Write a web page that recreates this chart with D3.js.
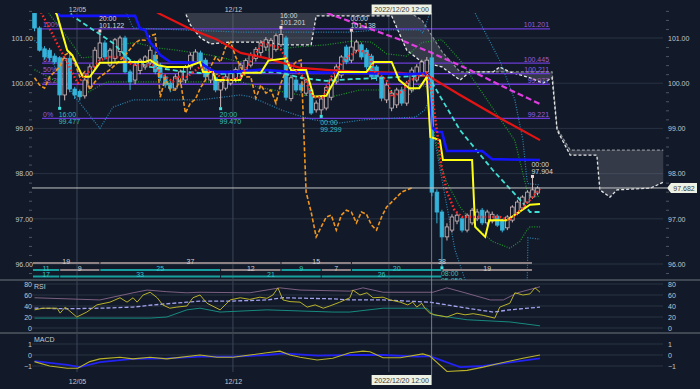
<!DOCTYPE html>
<html>
<head>
<meta charset="utf-8">
<script src="https://cdn.jsdelivr.net/npm/d3@7"></script>
<style>
body{margin:0;background:#121a29;}
svg{display:block;font-family:"Liberation Sans",Arial,sans-serif;}
</style>
</head>
<body>
<svg id="chart" width="700" height="389"></svg>
<script>
// ---- candles, 4h bars, index 0..100
var openP  = [101.55,101.22,100.76,100.73,100.60,100.56,99.74,100.55,99.87,99.82,99.72,99.92,100.36,100.56,100.89,100.40,100.55,100.70,101.00,100.25,
              100.07,100.28,100.36,100.45,100.62,100.40,100.14,100.00,99.89,100.03,100.07,100.36,100.47,100.67,100.51,100.07,100.12,99.85,99.89,100.00,
              100.10,100.22,100.30,100.40,100.55,100.68,100.80,100.55,100.75,100.85,101.00,99.66,100.07,99.96,99.78,99.85,99.41,99.41,99.45,99.69,
              100.03,100.18,100.80,100.51,100.73,100.85,100.73,100.60,100.36,100.14,99.63,99.45,99.52,99.85,99.56,99.85,100.07,100.22,100.25,100.56,
              97.59,97.15,96.60,96.75,96.95,97.00,96.75,96.91,97.00,97.19,96.91,96.95,97.06,96.97,96.80,96.97,97.12,97.24,97.37,97.48,97.57];
var highP  = [101.60,101.26,100.82,100.78,100.66,100.60,100.58,100.65,99.92,99.86,100.12,100.42,100.80,101.122,100.95,100.78,101.00,101.05,101.05,100.30,
              100.45,100.55,100.62,100.80,100.70,100.45,100.20,100.05,100.20,100.30,100.40,100.68,100.75,100.72,100.56,100.30,100.18,100.08,100.20,100.28,
              100.35,100.45,100.55,100.68,100.80,100.95,101.02,101.00,101.10,101.201,101.05,100.18,100.12,100.00,100.10,99.90,99.62,99.70,99.95,100.12,
              100.42,100.62,100.85,101.138,100.96,100.90,100.78,100.65,100.40,100.18,100.02,99.85,99.90,99.92,100.05,100.35,100.42,100.52,100.58,100.70,
              97.65,97.20,96.90,97.10,97.12,97.05,97.12,97.24,97.22,97.24,97.20,97.16,97.10,97.00,97.08,97.30,97.42,97.52,97.63,97.904,97.72];
var lowP   = [101.15,100.70,100.52,100.50,100.42,99.477,99.62,99.80,99.65,99.62,99.66,99.88,100.30,100.50,100.52,100.36,100.48,100.60,100.22,99.85,
              99.98,100.20,100.30,100.40,100.20,100.05,99.90,99.80,99.85,99.98,100.00,100.30,100.42,100.40,100.08,100.00,99.80,99.470,99.84,99.95,
              100.02,100.15,100.22,100.35,100.48,100.60,100.72,100.50,100.70,100.80,99.62,99.60,99.80,99.78,99.72,99.30,99.35,99.299,99.40,99.62,
              99.98,100.12,100.42,100.45,100.68,100.52,100.30,100.08,100.05,99.60,99.56,99.38,99.45,99.50,99.50,99.80,100.02,100.18,100.20,97.50,
              96.90,95.95,96.52,96.70,96.88,96.70,96.70,96.86,96.95,96.86,96.86,96.90,96.82,96.70,96.75,96.92,97.08,97.20,97.33,97.44,97.52];
var closeP = [101.22,100.73,100.58,100.56,100.47,99.74,100.55,99.87,99.74,99.70,100.07,100.36,100.73,100.89,100.58,100.73,100.96,101.00,100.25,100.03,
              100.40,100.51,100.58,100.73,100.25,100.12,99.96,99.89,100.14,100.25,100.36,100.62,100.69,100.45,100.14,100.25,99.85,100.03,100.14,100.22,
              100.30,100.40,100.50,100.62,100.75,100.89,100.96,100.95,101.05,101.08,99.69,100.12,99.85,99.85,100.07,99.34,99.56,99.65,99.90,100.07,
              100.36,100.58,100.47,100.80,100.91,100.58,100.36,100.14,100.14,99.67,99.96,99.78,99.85,99.56,100.00,100.29,100.36,100.47,100.51,97.59,
              97.15,96.60,96.82,97.04,97.08,96.75,97.08,97.19,97.15,96.91,97.15,97.10,96.86,96.75,97.04,97.26,97.37,97.48,97.59,97.64,97.682];

var dateTicks = [8.45, 39.45, 70.45];
var dateLabels = ["12/05", "12/12", "12/19"];
var crossIdx = 78.95, crossLabel = "2022/12/20 12:00", crossPrice = 97.682;
var priceTicks = [96, 97, 98, 99, 100, 101];

// swing highs / lows with their times
var swingHighIdx = [13, 49, 63, 99], swingHighTime = ["20:00", "16:00", "00:00", "00:00"];
var swingLowIdx = [5, 37, 57, 81], swingLowTime = ["16:00", "20:00", "00:00", "08:00"];

// fibonacci retracement
var fibLevels = [101.201, 100.445, 100.211, 99.977, 99.221];
var fibNames = ["100%", "61.8%", "50%", "38.2%", "0%"];
var fibFrom = 1.5, fibTo = 102.5;

// lines: [index, price]
var tenkanIdx = [4,4.5,6.5,7.5,9.6,11,13,15,18,22,23,24.5,26.3,30.3,32.9,33.5,35.5,36,40.9,41.5,45,46.5,50,51,54,55.5,58,59.5,60.5,66,67.5,71,72.5,74.5,76.5,78,78.7,80.6,81.2,87,87.6,89.6,90.4,93.9,96.1,98.5,100.5];
var tenkanVal = [101.62,101.50,100.73,100.62,100.14,100.14,100.45,100.45,100.47,100.47,100.51,100.40,100.36,100.36,100.47,100.25,100.25,100.07,100.07,100.23,100.23,100.50,100.55,100.29,100.29,99.70,99.72,100.03,100.25,100.25,100.47,100.47,100.07,99.89,99.89,100.14,98.81,98.74,98.30,98.30,96.82,96.60,96.97,96.97,97.13,97.31,97.33];
var kijunIdx = [4,5,20,21,22,23,24,25,27,33,35,36,40,45,50,55,60,65,70,75,78,79,80,81,82,89,91,100.5];
var kijunVal = [101.62,101.49,101.49,101.20,101.18,100.90,100.78,100.62,100.47,100.45,100.30,100.25,100.25,100.30,100.26,100.24,100.23,100.22,100.21,100.20,100.22,99.03,98.92,98.92,98.50,98.50,98.32,98.30];
var sma20Idx = [6.5,7.5,15.6,19,23,30,36,41,48,53,58,63,70,78,79,84.6,91.1,97.1,98.5,100.5];
var sma20Val = [101.70,101.49,100.89,100.51,100.36,100.25,100.20,100.23,100.25,100.12,100.05,100.09,100.12,100.18,100.02,98.96,98.08,97.35,97.15,97.15];
var sma75Idx = [23,24.6,31,36,41,45.8,52.8,58.7,64.7,72.7,76.6,78.6,84.6,92.5,100.5];
var sma75Val = [101.70,101.55,101.20,100.98,100.67,100.56,100.34,100.29,100.25,100.23,100.18,100.14,99.74,99.23,98.74];
var sma200Idx = [57,58.2,72.7,78.6,86.6,92.5,100.5];
var sma200Val = [101.70,101.55,100.96,100.69,100.29,99.96,99.54];
var sma5Idx = [1,1.4,8.6,13,15,17,19.6,22.4,23.5,25,27.5,28.3,30.3,32.9,35.5,38.3,40.9,45.4,48.8,51,53.5,55.4,57.4,59,62.1,64.7,66.7,67.3,70,71.1,73.5,74.1,78,79,80,81,82,83.5,85,92.5,94.5,97,100.5];
var sma5Val = [101.65,101.55,100.00,100.51,100.58,100.58,100.40,100.40,100.40,100.23,100.03,100.14,100.14,100.36,100.23,100.07,100.12,100.89,100.78,100.36,100.14,99.69,99.69,100.14,100.58,100.73,100.62,100.29,100.07,99.69,99.85,100.03,100.23,99.80,98.95,98.10,97.60,97.19,97.04,97.04,96.97,97.24,97.66];
var bbUp1Idx = [2,3.1,6.5,9.4,13,17,20,24.4,28.3,35,40.9,46,52,58,63,67,70,74,77,81,84.6,95.5,97.9,98.5,100.5];
var bbUp1Val = [101.70,101.51,101.02,100.56,100.60,100.85,100.90,100.78,100.73,100.62,100.47,100.73,100.80,100.85,100.93,100.91,100.65,100.60,100.90,100.96,100.51,98.73,97.64,97.48,97.50];
var bbLo1Idx = [0,5,9,14.4,40.9,45,52.8,58.7,64.7,70.7,72.1,74,76.6,78,79,80.5,82,84.6,88,91,94.5,96.5,97.9,98.5,100.5];
var bbLo1Val = [100.30,100.00,99.70,100.03,100.03,99.90,99.74,99.69,99.85,99.85,99.63,99.70,99.96,99.92,99.20,98.30,97.80,97.26,96.80,96.50,96.35,96.50,96.75,96.82,96.82];
var bbUp2Idx = [18,19.6,40.9,62.7,68.7,76.6,77.2,78.6,79.5,87.6,92.5,95.5,97.1,97.9,98.1,100.5];
var bbUp2Val = [101.62,101.22,101.13,101.13,101.18,101.18,101.11,101.55,101.90,101.55,100.50,99.63,98.74,97.86,97.78,97.75];
var bbLo2Idx = [0,2,7,13,15.6,19.6,33,40.9,43,49,52,55.4,60.7,65.5,75.8,77.6,78.5,79.2,83.6,85.6,88,97.9,98.1,100.5];
var bbLo2Val = [100.95,100.73,99.85,99.00,99.47,99.63,99.63,99.74,99.70,99.41,99.30,99.19,99.12,99.19,99.25,99.41,99.63,98.96,96.31,95.65,95.10,95.20,96.58,96.55];
var cloudIdx = [29,30,31,33,35,39,45,50,55,56,71,74,77,81,84.6,86.6,91.2,92.5,94.5,98.5,101.1,102.9,103.9,106.5,111.8,112.4,114.4,115.8,122.5,125];
var spanA = [101.70,101.55,101.29,101.00,100.87,100.91,100.91,100.85,100.85,101.49,101.49,100.73,100.47,100.36,100.07,100.25,100.25,100.36,100.25,100.12,100.00,100.12,98.96,98.41,98.41,97.64,97.48,97.64,97.68,97.81];
var spanB = [101.80,101.80,101.80,101.80,101.80,101.80,101.80,101.80,101.80,101.80,101.60,101.60,101.40,100.70,100.25,100.25,100.25,100.25,100.25,100.25,100.25,100.25,99.00,98.52,98.52,98.52,98.52,98.52,98.52,98.52];
var chikouShift = 25;

// RSI panel
var rsiIdx = [0,1.7,4.5,5.1,6.1,8.4,10.4,12.4,15,17,18.4,19.6,20.4,21.6,23,24.4,25.5,26.9,28.3,30.3,31.5,32.9,34.3,36.9,38.9,40.9,42.8,44.8,46.2,47.4,48.4,49.4,50.8,52.8,54.2,55.8,57.4,58.7,60.7,62.7,63.3,64.7,66.1,67.3,69.3,70.7,72.7,74.2,75.2,76,77,77.6,78.6,79.6,82,84,85.6,87.2,89.2,91.5,92.5,94.5,95.5,97.1,98.5,99.5,100.5];
var rsiVal = [33,36,36,27,38,20,29,42,47,55,47,55,47,60,65,55,42,36,38,40,55,60,45,33,51,55,52,56,54,60,73,51,48,47,38,42,36,40,47,55,69,60,64,55,56,51,47,42,47,38,45,36,27,24,20,27,24,26,23,18,38,45,64,60,62,73,65];
var rsiUpIdx = [0,13,19.6,22.4,26.3,30.3,32.9,42.8,48.8,52.8,62.7,65.3,69.3,79.2,82,85.6,90.6,93.2,96,100.5];
var rsiUpVal = [55,51,64,69,66,64,65,64,73,69,67,73,65,65,73,64,51,51,64,75];
var rsiMidIdx = [0,6.5,13,19.6,23.6,30.3,32.9,39.5,46.2,49.4,59.3,62.7,69.3,78.6,86,91.2,94.5,100.5];
var rsiMidVal = [36,35,36,38,42,47,49,49,51,55,53,51,51,47,36,29,33,38];
var rsiLoIdx = [0,13,23,26.3,30.3,32.9,36.9,46.2,59.3,62.7,69.3,78,79.2,86,94.5,100.5];
var rsiLoVal = [18,18,18,20,33,36,29,33,29,29,36,36,24,15,11,4];
var rsiTicks = [0, 20, 40, 60, 80];

// MACD panel
var macdIdx = [0,3,6.5,8.6,11,13,17,19.6,23,26.3,32.9,36.3,39.5,42.8,46.2,48.8,50.8,52.8,56.2,59.3,62.7,65.3,66.7,69.3,72.7,77.2,78.6,82,86,89.2,92.5,97.1,100.5];
var macdVal = [-0.6,-1.0,-1.2,-1.2,-0.6,-0.35,-0.2,-0.35,-0.2,-0.35,0.0,-0.2,-0.2,0.0,0.2,0.35,0.0,-0.2,-0.45,-0.3,0.2,0.35,0.3,-0.25,-0.25,0.1,-0.1,-1.5,-1.4,-1.1,-0.75,-0.3,0.0];
var signalIdx = [0,6.5,9,13,19.6,26.3,32.9,39.5,46.2,49.4,56.2,62.7,69.3,76,78.6,84.6,89.2,100.5];
var signalVal = [-0.55,-0.9,-1.1,-0.65,-0.35,-0.3,-0.15,-0.15,0.0,0.15,-0.05,0.0,0.0,-0.15,-0.1,-1.1,-1.0,-0.3];
var macdTicks = [-1, 0, 1];

// wave count rows
var wave1Edges = [-0.4, 13, 49, 63, 99], wave1Counts = [19, 37, 15, 38];
var wave2Edges = [-0.4, 5, 13, 37, 49, 57, 63, 81, 99], wave2Counts = [11, 9, 25, 12, 9, 7, 20, 19];
var wave3Edges = [-0.4, 5, 37, 57, 81], wave3Counts = [17, 33, 21, 26];

// ---- scales
var x = d3.scaleLinear().domain([0, 100]).range([34.5, 537.5]);
var y = d3.scaleLinear().domain([96, 101]).range([264, 38]);
var yR = d3.scaleLinear().domain([0, 80]).range([328, 284]);
var yM = d3.scaleLinear().domain([-1, 1]).range([366, 344]);
var left = 32, right = 663;

var svg = d3.select("#chart");
svg.append("rect").attr("width", 700).attr("height", 389).attr("fill", "#121a29");

var defs = svg.append("defs");
defs.append("clipPath").attr("id", "mainClip").append("rect")
  .attr("x", left).attr("y", 13).attr("width", right - left + 3).attr("height", 267);
defs.append("clipPath").attr("id", "rsiClip").append("rect")
  .attr("x", left).attr("y", 281).attr("width", right - left).attr("height", 51);
defs.append("clipPath").attr("id", "macdClip").append("rect")
  .attr("x", left).attr("y", 334).attr("width", right - left).attr("height", 40);

function pts(idx, val) { return idx.map(function(d, i) { return [d, val[i]]; }); }

// ---- grid
var grid = svg.append("g");
grid.selectAll(".hg").data(priceTicks).enter().append("line")
  .attr("x1", left).attr("x2", right).attr("y1", function(d) { return y(d); }).attr("y2", function(d) { return y(d); })
  .attr("stroke", "#283243").attr("stroke-width", 1);
grid.selectAll(".rg").data(rsiTicks).enter().append("line")
  .attr("x1", left).attr("x2", right).attr("y1", function(d) { return yR(d); }).attr("y2", function(d) { return yR(d); })
  .attr("stroke", "#283243");
grid.selectAll(".mg").data(macdTicks).enter().append("line")
  .attr("x1", left).attr("x2", right).attr("y1", function(d) { return yM(d); }).attr("y2", function(d) { return yM(d); })
  .attr("stroke", "#283243");
grid.selectAll(".vg").data(dateTicks).enter().append("line")
  .attr("x1", function(d) { return x(d); }).attr("x2", function(d) { return x(d); })
  .attr("y1", 13).attr("y2", 372).attr("stroke", "#3b4556");

// axes labels
function styleAxis(g) {
  g.select(".domain").remove();
  g.selectAll("text").attr("fill", "#c3c7cc").style("font-size", "7px").style("font-family", "Liberation Sans, Arial, sans-serif");
  g.selectAll("line").attr("stroke", "#4c5563");
}
svg.append("g").attr("transform", "translate(34,0)")
  .call(d3.axisLeft(y).tickValues(priceTicks).tickFormat(d3.format(".2f")).tickSize(0).tickPadding(1)).call(styleAxis);
svg.append("g").attr("transform", "translate(667,0)")
  .call(d3.axisRight(y).tickValues(priceTicks).tickFormat(d3.format(".2f")).tickSize(0).tickPadding(1)).call(styleAxis);
var minor = d3.range(95.8, 101.7, 0.2).filter(function(v) { return Math.abs(v - Math.round(v)) > 0.05; });
svg.append("g").attr("transform", "translate(32,0)")
  .call(d3.axisLeft(y).tickValues(minor).tickFormat("").tickSize(3)).call(styleAxis);
svg.append("g").attr("transform", "translate(666,0)")
  .call(d3.axisRight(y).tickValues(minor).tickFormat("").tickSize(3)).call(styleAxis);
svg.append("g").attr("transform", "translate(33,0)")
  .call(d3.axisLeft(yR).tickValues(rsiTicks).tickFormat(d3.format("d")).tickSize(0).tickPadding(1)).call(styleAxis);
svg.append("g").attr("transform", "translate(667,0)")
  .call(d3.axisRight(yR).tickValues(rsiTicks).tickFormat(d3.format("d")).tickSize(0).tickPadding(1)).call(styleAxis);
svg.append("g").attr("transform", "translate(33,0)")
  .call(d3.axisLeft(yM).tickValues(macdTicks).tickFormat(d3.format("d")).tickSize(0).tickPadding(1)).call(styleAxis);
svg.append("g").attr("transform", "translate(667,0)")
  .call(d3.axisRight(yM).tickValues(macdTicks).tickFormat(d3.format("d")).tickSize(0).tickPadding(1)).call(styleAxis);
svg.append("g").attr("transform", "translate(0,376)")
  .call(d3.axisBottom(x).tickValues(dateTicks.slice(0, 2)).tickFormat(function(d, i) { return dateLabels[i]; }).tickSize(0)).call(styleAxis);
svg.append("g").attr("transform", "translate(0,4)")
  .call(d3.axisBottom(x).tickValues(dateTicks.slice(0, 2)).tickFormat(function(d, i) { return dateLabels[i]; }).tickSize(0)).call(styleAxis);

// panel separators
[280, 333].forEach(function(v) {
  svg.append("line").attr("x1", 0).attr("x2", 700).attr("y1", v).attr("y2", v).attr("stroke", "#3f4752").attr("stroke-width", 2);
});

// ---- main panel
var main = svg.append("g").attr("clip-path", "url(#mainClip)");
var line = d3.line().x(function(d) { return x(d[0]); }).y(function(d) { return y(d[1]); });

// cloud
var cloud = pts(cloudIdx, spanA).map(function(d, i) { return [d[0], d[1], spanB[i]]; });
main.append("path").datum(cloud)
  .attr("d", d3.area().x(function(d) { return x(d[0]); }).y0(function(d) { return y(d[1]); }).y1(function(d) { return y(d[2]); }))
  .attr("fill", "#8c919b").attr("fill-opacity", 0.28);
main.append("path").datum(pts(cloudIdx, spanB)).attr("d", line)
  .attr("fill", "none").attr("stroke", "#8e9299").attr("stroke-width", 1.2).attr("stroke-dasharray", "3,2");
main.append("path").datum(pts(cloudIdx, spanA)).attr("d", line)
  .attr("fill", "none").attr("stroke", "#e6e6e6").attr("stroke-width", 1.3).attr("stroke-dasharray", "3,2");

// fibonacci
var fib = main.append("g");
fib.selectAll("line").data(fibLevels).enter().append("line")
  .attr("x1", x(fibFrom)).attr("x2", x(fibTo))
  .attr("y1", function(d) { return y(d); }).attr("y2", function(d) { return y(d); })
  .attr("stroke", "#6a3bd6").attr("stroke-width", 1.4);
fib.selectAll(".fl").data(fibNames).enter().append("text")
  .attr("x", x(fibFrom) + 1).attr("y", function(d, i) { return y(fibLevels[i]) - 1.5; })
  .attr("fill", "#9a5ddc").style("font-size", "7px").text(function(d) { return d; });
fib.selectAll(".fr").data(fibLevels).enter().append("text")
  .attr("x", x(fibTo) - 1).attr("y", function(d) { return y(d) - 1.5; }).attr("text-anchor", "end")
  .attr("fill", "#9a5ddc").style("font-size", "7px").text(function(d) { return d3.format(".3f")(d); });

// bollinger bands
[[bbUp2Idx, bbUp2Val, "#2c86b4"], [bbLo2Idx, bbLo2Val, "#2c86b4"], [bbUp1Idx, bbUp1Val, "#1e9a2a"], [bbLo1Idx, bbLo1Val, "#1e9a2a"]].forEach(function(s) {
  main.append("path").datum(pts(s[0], s[1])).attr("d", line)
    .attr("fill", "none").attr("stroke", s[2]).attr("stroke-width", 1.2).attr("stroke-dasharray", "1,1.5");
});

// candles
var candles = main.append("g").selectAll("g").data(d3.range(openP.length)).enter().append("g");
function isUp(i) { return closeP[i] >= openP[i]; }
candles.append("line")
  .attr("x1", function(i) { return x(i); }).attr("x2", function(i) { return x(i); })
  .attr("y1", function(i) { return y(highP[i]); }).attr("y2", function(i) { return y(lowP[i]); })
  .attr("stroke", function(i) { return isUp(i) ? "#cdb9bb" : "#35b3da"; });
candles.append("rect")
  .attr("x", function(i) { return x(i) - 1.8; }).attr("width", 3.6)
  .attr("y", function(i) { return y(Math.max(openP[i], closeP[i])); })
  .attr("height", function(i) { return Math.max(1, Math.abs(y(openP[i]) - y(closeP[i]))); })
  .attr("fill", function(i) { return isUp(i) ? "#121a29" : "#35b3da"; })
  .attr("stroke", function(i) { return isUp(i) ? "#cdb9bb" : "#35b3da"; }).attr("stroke-width", 0.8);

// chikou span (close moved back)
var chikou = closeP.slice(chikouShift).map(function(v, i) { return [i, v]; });
main.append("path").datum(chikou).attr("d", line)
  .attr("fill", "none").attr("stroke", "#f0961e").attr("stroke-width", 1.6).attr("stroke-dasharray", "4,2");

// moving averages and ichimoku
main.append("path").datum(pts(sma200Idx, sma200Val)).attr("d", line)
  .attr("fill", "none").attr("stroke", "#e03ee0").attr("stroke-width", 2.2).attr("stroke-dasharray", "6,3");
main.append("path").datum(pts(sma75Idx, sma75Val)).attr("d", line)
  .attr("fill", "none").attr("stroke", "#e51414").attr("stroke-width", 2.2);
main.append("path").datum(pts(sma20Idx, sma20Val)).attr("d", line)
  .attr("fill", "none").attr("stroke", "#3fe0d6").attr("stroke-width", 1.8).attr("stroke-dasharray", "5,3");
main.append("path").datum(pts(kijunIdx, kijunVal)).attr("d", line)
  .attr("fill", "none").attr("stroke", "#1414ff").attr("stroke-width", 2.6);
main.append("path").datum(pts(tenkanIdx, tenkanVal)).attr("d", line)
  .attr("fill", "none").attr("stroke", "#ffff14").attr("stroke-width", 2);
main.append("path").datum(pts(sma5Idx, sma5Val)).attr("d", line)
  .attr("fill", "none").attr("stroke", "#ff2a2a").attr("stroke-width", 2.4).attr("stroke-dasharray", "1.6,2.2");

// swing markers
var marks = main.append("g").style("font-size", "7px");
swingHighIdx.forEach(function(d, k) {
  var px = x(d), py = y(highP[d]);
  marks.append("rect").attr("x", px - 1.5).attr("y", py - 3).attr("width", 3).attr("height", 3).attr("fill", "#f2d6d6");
  marks.append("text").attr("x", px - 1).attr("y", py - 11).attr("fill", "#d6d6d6").text(swingHighTime[k]);
  marks.append("text").attr("x", px - 1).attr("y", py - 4).attr("fill", "#d6d6d6").text(d3.format(".3f")(highP[d]));
});
swingLowIdx.forEach(function(d, k) {
  var px = x(d), py = y(lowP[d]);
  marks.append("rect").attr("x", px - 1.5).attr("y", py).attr("width", 3).attr("height", 3).attr("fill", "#3fe3e3");
  marks.append("text").attr("x", px - 1).attr("y", py + 10).attr("fill", "#3cbcbc").text(swingLowTime[k]);
  marks.append("text").attr("x", px - 1).attr("y", py + 17).attr("fill", "#3cbcbc").text(d3.format(".3f")(lowP[d]));
});

// wave count rows
function waveRow(edges, counts, yy, colorFn) {
  var g = svg.append("g").style("font-size", "7px");
  counts.forEach(function(c, k) {
    var x0 = x(edges[k]) + 0.5, x1 = x(edges[k + 1]) - 0.5, col = colorFn(k);
    g.append("line").attr("x1", x0).attr("x2", x1).attr("y1", yy).attr("y2", yy)
      .attr("stroke", col.line).attr("stroke-width", 2);
    g.append("text").attr("x", (x0 + x1) / 2).attr("y", yy + 0.5).attr("text-anchor", "middle")
      .attr("fill", col.text).text(c);
  });
}
var grayRow = { line: "#8c8185", text: "#cfcfcf" }, tealRow = { line: "#169f9e", text: "#33c6c6" };
waveRow(wave1Edges, wave1Counts, 263, function() { return grayRow; });
waveRow(wave2Edges, wave2Counts, 270, function(k) { return k % 2 ? grayRow : tealRow; });
waveRow(wave3Edges, wave3Counts, 276.5, function() { return tealRow; });

// ---- RSI
var rsi = svg.append("g").attr("clip-path", "url(#rsiClip)");
var lineR = d3.line().x(function(d) { return x(d[0]); }).y(function(d) { return yR(d[1]); });
rsi.append("path").datum(pts(rsiUpIdx, rsiUpVal)).attr("d", lineR).attr("fill", "none").attr("stroke", "#7c5f82").attr("stroke-width", 1);
rsi.append("path").datum(pts(rsiLoIdx, rsiLoVal)).attr("d", lineR).attr("fill", "none").attr("stroke", "#178a80").attr("stroke-width", 1);
rsi.append("path").datum(pts(rsiMidIdx, rsiMidVal)).attr("d", lineR).attr("fill", "none").attr("stroke", "#a2a2ee").attr("stroke-width", 1.3).attr("stroke-dasharray", "4,2");
rsi.append("path").datum(pts(rsiIdx, rsiVal)).attr("d", lineR).attr("fill", "none").attr("stroke", "#b9b22a").attr("stroke-width", 1);
svg.append("text").attr("x", 34).attr("y", 289).attr("fill", "#c3c7cc").style("font-size", "7px").text("RSI");

// ---- MACD
var macd = svg.append("g").attr("clip-path", "url(#macdClip)");
var lineM = d3.line().x(function(d) { return x(d[0]); }).y(function(d) { return yM(d[1]); });
macd.append("path").datum(pts(signalIdx, signalVal)).attr("d", lineM).attr("fill", "none").attr("stroke", "#2222f2").attr("stroke-width", 1.8);
macd.append("path").datum(pts(macdIdx, macdVal)).attr("d", lineM).attr("fill", "none").attr("stroke", "#b9b22a").attr("stroke-width", 1.1);
svg.append("text").attr("x", 34).attr("y", 342).attr("fill", "#c3c7cc").style("font-size", "7px").text("MACD");

// ---- crosshair
var cx = x(crossIdx), cy = y(crossPrice);
svg.append("line").attr("x1", cx).attr("x2", cx).attr("y1", 13).attr("y2", 375).attr("stroke", "#8d949c").attr("stroke-width", 0.8);
svg.append("line").attr("x1", left).attr("x2", 667).attr("y1", cy).attr("y2", cy).attr("stroke", "#c4c4c4").attr("stroke-width", 1);
[4.5, 375].forEach(function(ty) {
  svg.append("rect").attr("x", cx - 60).attr("y", ty).attr("width", 60).attr("height", 10).attr("fill", "#edf2e4");
  svg.append("text").attr("x", cx - 30).attr("y", ty + 7.6).attr("text-anchor", "middle")
    .attr("fill", "#3a3a3a").style("font-size", "7px").text(crossLabel);
});
svg.append("path")
  .attr("d", "M667," + cy + "L671," + (cy - 5) + "L697," + (cy - 5) + "L697," + (cy + 5) + "L671," + (cy + 5) + "Z")
  .attr("fill", "#edf2e4");
svg.append("text").attr("x", 684).attr("y", cy + 2.6).attr("text-anchor", "middle")
  .attr("fill", "#3a3a3a").style("font-size", "7px").text(d3.format(".3f")(crossPrice));
</script>
</body>
</html>
